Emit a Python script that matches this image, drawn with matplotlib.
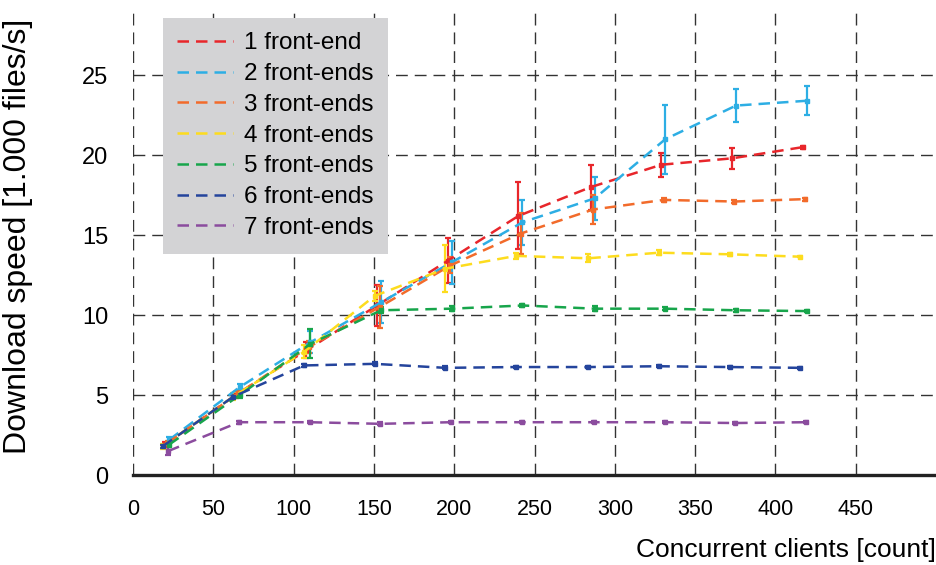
"""Download speed vs concurrent clients, one line per front-end count."""

import matplotlib.pyplot as plt
from matplotlib.lines import Line2D

clients = [20, 64, 108, 152, 196, 240, 285, 329, 373, 417]

labels = ["1 front-end", "2 front-ends", "3 front-ends", "4 front-ends",
          "5 front-ends", "6 front-ends", "7 front-ends"]

speed_1 = [1.9, 5.0, 7.8, 10.6, 13.4, 16.2, 18.0, 19.4, 19.8, 20.5]
speed_2 = [2.2, 5.5, 8.3, 10.8, 13.3, 15.8, 17.3, 21.0, 23.1, 23.4]
speed_3 = [2.0, 5.1, 8.0, 10.5, 13.1, 15.1, 16.6, 17.2, 17.1, 17.25]
speed_4 = [1.8, 4.9, 7.7, 11.2, 12.9, 13.7, 13.55, 13.9, 13.8, 13.65]
speed_5 = [1.9, 5.0, 8.2, 10.3, 10.4, 10.6, 10.4, 10.4, 10.3, 10.25]
speed_6 = [1.8, 4.9, 6.85, 6.95, 6.7, 6.75, 6.75, 6.8, 6.75, 6.7]
speed_7 = [1.5, 3.3, 3.3, 3.2, 3.3, 3.3, 3.3, 3.3, 3.25, 3.3]

err_1 = [0.15, 0.2, 0.5, 1.3, 1.4, 2.1, 1.4, 0.75, 0.65, 0.1]
err_2 = [0.15, 0.2, 0.7, 1.3, 1.35, 1.4, 1.35, 2.15, 1.05, 0.9]
err_3 = [0.15, 0.2, 0.4, 1.3, 0.5, 1.3, 0.9, 0.15, 0.1, 0.1]
err_4 = [0.15, 0.2, 0.4, 0.3, 1.45, 0.2, 0.25, 0.15, 0.1, 0.05]
err_5 = [0.15, 0.2, 0.9, 0.2, 0.15, 0.1, 0.15, 0.1, 0.1, 0.05]
err_6 = [0.1, 0.1, 0.1, 0.1, 0.1, 0.05, 0.05, 0.05, 0.05, 0.05]
err_7 = [0.25, 0.1, 0.05, 0.1, 0.05, 0.05, 0.05, 0.05, 0.05, 0.05]

speeds = [speed_1, speed_2, speed_3, speed_4, speed_5, speed_6, speed_7]
errors = [err_1, err_2, err_3, err_4, err_5, err_6, err_7]

colors = ["#e8262b", "#2daee4", "#f26b2b", "#fddc1e", "#17a54b", "#24449c", "#8b4c9e"]
dodge = [0, 2.5, 1.5, -1.5, 2.5, -1.5, 2]  # small horizontal shift per series
line_dash = (0, (4.6, 2.8))

plt.rcParams["font.family"] = ["Liberation Sans", "DejaVu Sans"]

fig = plt.figure(figsize=(9.36, 5.65), dpi=100)
ax = fig.add_axes([133 / 936, 90 / 565, 803 / 936, 467 / 565])

ax.grid(True, color="#333333", lw=1.0, linestyle=(0, (8.5, 5)))
ax.set_axisbelow(True)

handles = []
for y, e, c, d, lab in zip(speeds, errors, colors, dodge, labels):
    x = [v + d for v in clients]
    ax.errorbar(x, y, yerr=e, color=c, ecolor=c, elinewidth=1.6,
                capsize=2.2, capthick=1.6, lw=1.8, linestyle=line_dash,
                marker="s", markersize=2.5)
    handles.append(Line2D([], [], color=c, lw=1.8, linestyle=line_dash, label=lab))

ax.set_xlim(0, 500)
ax.set_ylim(0, 29.2)
ax.set_xticks(range(0, 451, 50))
ax.set_yticks(range(0, 26, 5))

for side in ["left", "right", "top"]:
    ax.spines[side].set_visible(False)
ax.spines["bottom"].set_linewidth(2.4)
ax.spines["bottom"].set_color("#222222")

ax.tick_params(axis="y", length=0, pad=18, labelsize=17)
ax.tick_params(axis="x", length=0, pad=17, labelsize=15.5)

ax.set_ylabel("Download speed [1.000 files/s]", fontsize=23)
ax.yaxis.set_label_coords(-0.1245, 0.512)
ax.set_xlabel("Concurrent clients [count]", fontsize=19, loc="right", labelpad=13)

ax.legend(handles=handles, loc="upper left", bbox_to_anchor=(0.037, 0.979),
          fontsize=17.5, frameon=True, fancybox=False, facecolor="#d3d3d5",
          edgecolor="none", framealpha=1, borderpad=0.6, labelspacing=0.36,
          handlelength=2.3, handletextpad=0.45, borderaxespad=0)

fig.savefig("out.png", dpi=100)
